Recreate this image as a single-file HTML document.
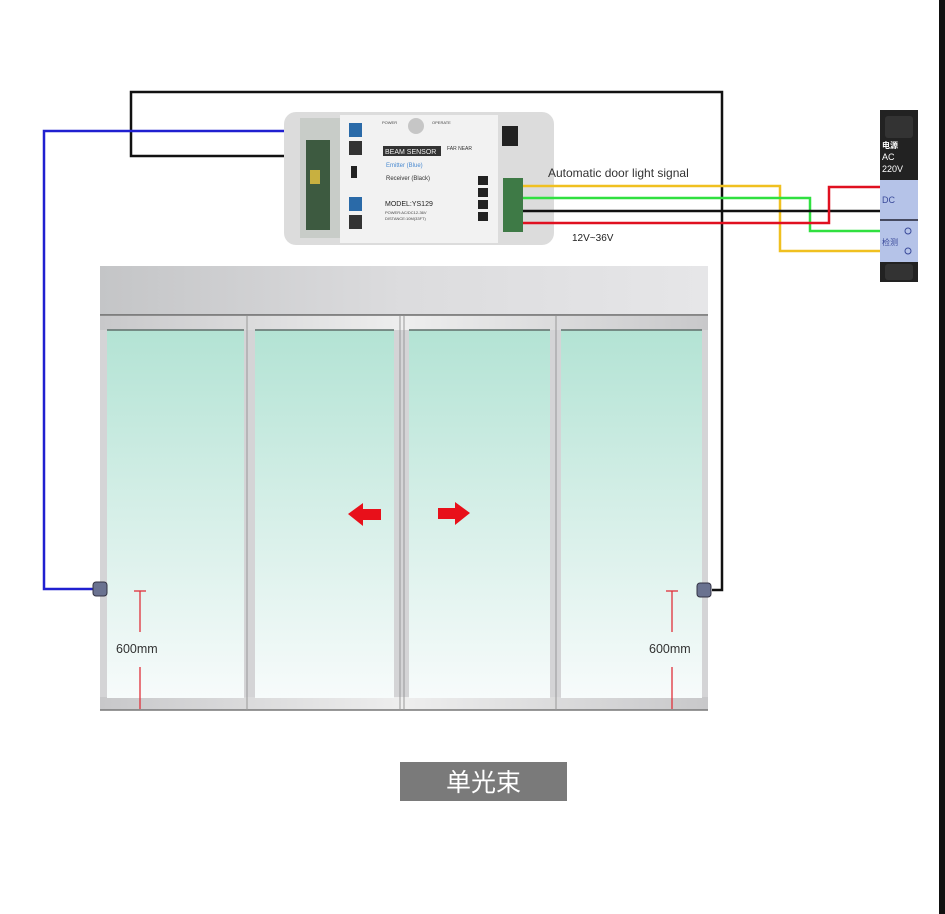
<!DOCTYPE html>
<html><head><meta charset="utf-8"><style>
html,body{margin:0;padding:0;background:#fff;}
svg{display:block;}
text{font-family:"Liberation Sans","Noto Sans CJK SC",sans-serif;}
</style></head><body>
<svg width="945" height="914" viewBox="0 0 945 914" xmlns="http://www.w3.org/2000/svg">
<defs>
<linearGradient id="glass" x1="0" y1="0" x2="0" y2="1">
<stop offset="0" stop-color="#b3e3d4"/><stop offset="0.5" stop-color="#d6efe8"/><stop offset="1" stop-color="#f7fbfb"/>
</linearGradient>
<linearGradient id="head" x1="0" y1="0" x2="1" y2="0">
<stop offset="0" stop-color="#c4c5c7"/><stop offset="0.5" stop-color="#dcdcde"/><stop offset="1" stop-color="#e6e6e8"/>
</linearGradient>
<linearGradient id="bar" x1="0" y1="0" x2="1" y2="0">
<stop offset="0" stop-color="#c8c8ca"/><stop offset="0.5" stop-color="#eeeeee"/><stop offset="1" stop-color="#c8c8ca"/>
</linearGradient>
</defs>
<rect width="945" height="914" fill="#fff"/>
<rect x="939" y="0" width="6" height="914" fill="#111"/>

<!-- door header -->
<rect x="100" y="266" width="608" height="49" fill="url(#head)"/>
<line x1="100" y1="315" x2="708" y2="315" stroke="#666" stroke-width="1.5"/>
<!-- frame -->
<rect x="100" y="316" width="608" height="394" fill="#d4d4d6"/>
<rect x="100" y="316" width="608" height="14" fill="url(#bar)"/>
<rect x="100" y="697" width="608" height="13" fill="url(#bar)"/>
<line x1="100" y1="710" x2="708" y2="710" stroke="#777" stroke-width="1.5"/>
<!-- glass -->
<rect x="107" y="330" width="137" height="368" fill="url(#glass)"/>
<rect x="255" y="330" width="139" height="368" fill="url(#glass)"/>
<rect x="409" y="330" width="141" height="368" fill="url(#glass)"/>
<rect x="561" y="330" width="141" height="368" fill="url(#glass)"/>
<g stroke="#5f6f6b" stroke-width="1.5">
<line x1="107" y1="330" x2="244" y2="330"/><line x1="255" y1="330" x2="394" y2="330"/>
<line x1="409" y1="330" x2="550" y2="330"/><line x1="561" y1="330" x2="702" y2="330"/>
</g>
<g stroke="#999" stroke-width="1">
<line x1="247" y1="316" x2="247" y2="710"/><line x1="400" y1="316" x2="400" y2="710"/>
<line x1="404" y1="316" x2="404" y2="710"/><line x1="556" y1="316" x2="556" y2="710"/>
</g>

<!-- arrows -->
<polygon points="348,514 363,503 363,509 381,509 381,520 363,520 363,526" fill="#e8101a"/>
<polygon points="470,513 455,502 455,508 438,508 438,519 455,519 455,525" fill="#e8101a"/>

<!-- 600mm dims -->
<g stroke="#e0303a" stroke-width="1.3">
<line x1="134" y1="591" x2="146" y2="591"/><line x1="140" y1="591" x2="140" y2="632"/>
<line x1="140" y1="667" x2="140" y2="709"/>
<line x1="666" y1="591" x2="678" y2="591"/><line x1="672" y1="591" x2="672" y2="632"/>
<line x1="672" y1="667" x2="672" y2="709"/>
</g>
<text x="116" y="653" font-size="12.5" fill="#333">600mm</text>
<text x="649" y="653" font-size="12.5" fill="#333">600mm</text>

<!-- black loop wire -->
<polyline points="300,156 131,156 131,92 722,92 722,590 712,590" fill="none" stroke="#111" stroke-width="2.5"/>
<!-- blue wire -->
<polyline points="300,131 44,131 44,589 95,589" fill="none" stroke="#2020d0" stroke-width="2.5"/>
<!-- sensors -->
<rect x="93" y="582" width="14" height="14" rx="3" fill="#6a7290" stroke="#334" stroke-width="1"/>
<rect x="697" y="583" width="14" height="14" rx="3" fill="#6a7290" stroke="#334" stroke-width="1"/>

<!-- controller box -->
<rect x="284" y="112" width="270" height="133" rx="12" fill="#dcdcdc"/>
<rect x="300" y="118" width="40" height="120" fill="#c8ccc8"/>
<rect x="306" y="140" width="24" height="90" fill="#3d5a40"/>
<rect x="310" y="170" width="10" height="14" fill="#c8b040"/>
<rect x="340" y="115" width="158" height="128" fill="#f2f2f2"/>
<rect x="498" y="118" width="40" height="120" fill="#dcdcdc"/>
<rect x="502" y="126" width="16" height="20" fill="#222"/>
<circle cx="416" cy="126" r="8" fill="#c6c6c6"/>
<rect x="349" y="123" width="13" height="14" fill="#2a6aa8"/>
<rect x="349" y="141" width="13" height="14" fill="#333"/>
<rect x="349" y="197" width="13" height="14" fill="#2a6aa8"/>
<rect x="349" y="215" width="13" height="14" fill="#333"/>
<rect x="351" y="166" width="6" height="12" fill="#222"/>
<rect x="383" y="146" width="58" height="10" fill="#333"/>
<text x="385" y="154" font-size="7" fill="#eee">BEAM SENSOR</text>
<text x="386" y="167" font-size="6" fill="#4a8ad0">Emitter (Blue)</text>
<text x="386" y="180" font-size="6" fill="#333">Receiver (Black)</text>
<text x="385" y="206" font-size="7" fill="#222">MODEL:YS129</text>
<text x="385" y="214" font-size="4" fill="#444">POWER:AC/DC12-36V</text>
<text x="385" y="220" font-size="4" fill="#444">DISTANCE:10M(33FT)</text>
<text x="382" y="124" font-size="4" fill="#444">POWER</text>
<text x="432" y="124" font-size="4" fill="#444">OPERATE</text>
<text x="447" y="150" font-size="5" fill="#333">FAR  NEAR</text>
<rect x="478" y="176" width="10" height="9" fill="#222"/><rect x="478" y="188" width="10" height="9" fill="#222"/>
<rect x="478" y="200" width="10" height="9" fill="#222"/><rect x="478" y="212" width="10" height="9" fill="#222"/>
<rect x="503" y="178" width="20" height="54" fill="#3e7a46"/>

<!-- colored wires -->
<polyline points="523,186 780,186 780,251 905,251" fill="none" stroke="#f0c020" stroke-width="2.5"/>
<polyline points="523,198 810,198 810,231 905,231" fill="none" stroke="#30e040" stroke-width="2.5"/>
<line x1="523" y1="211" x2="905" y2="211" stroke="#111" stroke-width="2.5"/>
<polyline points="523,223 829,223 829,187 905,187" fill="none" stroke="#e01020" stroke-width="2.5"/>
<text x="548" y="177" font-size="12" fill="#333">Automatic door light signal</text>
<text x="572" y="241" font-size="10" fill="#222">12V~36V</text>

<!-- power supply -->
<rect x="880" y="110" width="38" height="172" fill="#222"/>
<rect x="880" y="180" width="38" height="82" fill="#b5c3e8"/>
<rect x="885" y="116" width="28" height="22" rx="3" fill="#333"/>
<rect x="885" y="264" width="28" height="16" rx="3" fill="#333"/>
<text x="882" y="148" font-size="8" fill="#fff" font-weight="bold">电源</text>
<text x="882" y="160" font-size="9" fill="#fff">AC</text>
<text x="882" y="172" font-size="9" fill="#fff">220V</text>
<text x="882" y="203" font-size="9" fill="#3a4a9a">DC</text>
<text x="882" y="245" font-size="8" fill="#3a4a9a">检测</text>
<line x1="880" y1="220" x2="918" y2="220" stroke="#223" stroke-width="1.5"/>
<circle cx="908" cy="231" r="3" fill="none" stroke="#3a4a9a"/>
<circle cx="908" cy="251" r="3" fill="none" stroke="#3a4a9a"/>

<!-- label -->
<rect x="400" y="762" width="167" height="39" fill="#7a7a7a"/>
<text x="483.5" y="791" font-size="25" fill="#fff" text-anchor="middle">单光束</text>
</svg>
</body></html>
